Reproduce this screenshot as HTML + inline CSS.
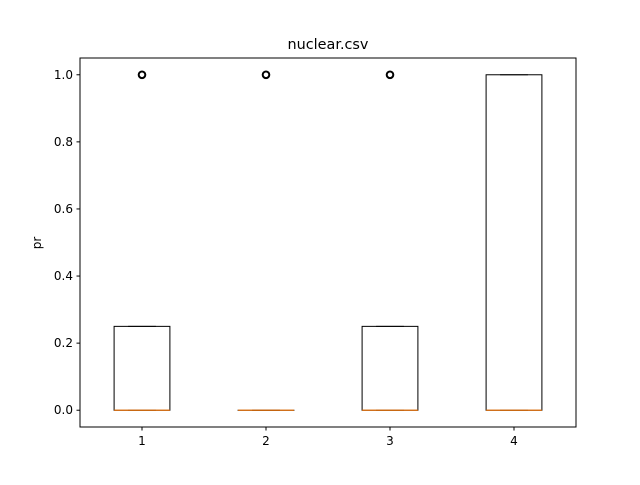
<!DOCTYPE html>
<html><head><meta charset="utf-8"><style>
body{margin:0;background:#fff;font-family:"Liberation Sans","DejaVu Sans",sans-serif;}
svg text{font-family:"DejaVu Sans","Liberation Sans",sans-serif;}
</style></head><body>
<svg id="chart" width="640" height="480" xmlns="http://www.w3.org/2000/svg">
<rect width="640" height="480" fill="#fff"/>
<text x="328" y="49" font-size="14.4" text-anchor="middle">nuclear.csv</text>
<text transform="translate(41,243) rotate(-90)" font-size="12" text-anchor="middle">pr</text>
<g id="marks"></g>
<rect x="80" y="58" width="496" height="369" fill="none" stroke="#000" stroke-width="1"/>
</svg>
<script>
const categories=["1","2","3","4"];
const q1=[0,0,0,0];
const q3=[0.25,0,0.25,1];
const medians=[0,0,0,0];
const whiskLo=[0,0,0,0];
const whiskHi=[0.25,0,0.25,1];
const fliers=[[1],[1],[1],[]];
const yTicks=[0,0.2,0.4,0.6,0.8,1.0];
const yTickLabels=["0.0","0.2","0.4","0.6","0.8","1.0"];

const L=80,R=576,T=58,B=427;
const ymin=-0.05,ymax=1.05;
const y=v=>B-(v-ymin)/(ymax-ymin)*(B-T);
const x=i=>L+(i+1-0.5)/4*(R-L);
const bw=0.45/4*(R-L);
const NS="http://www.w3.org/2000/svg";
const g=document.getElementById('marks');
function mk(tag,attrs,parent){const e=document.createElementNS(NS,tag);for(const k in attrs)e.setAttribute(k,attrs[k]);(parent||g).appendChild(e);return e;}

yTicks.forEach((t,i)=>{
  const yy=y(t);
  const tk=mk('line',{x1:L-3.5,x2:L,y1:yy,y2:yy,stroke:'#000'});
  
  
  const tx=mk('text',{x:L-7,y:yy+4,'font-size':12,'text-anchor':'end'});
  tx.textContent=yTickLabels[i];
  
  
});
categories.forEach((c,i)=>{
  const xx=x(i);
  const tk=mk('line',{x1:xx,x2:xx,y1:B,y2:B+3.5,stroke:'#000'});
  
  
  const tx=mk('text',{x:xx,y:B+18,'font-size':12,'text-anchor':'middle'});
  tx.textContent=c;
  
  
  const grp=mk('g',{});
  
  
  const yb=y(q1[i]),yt=y(q3[i]);
  mk('rect',{x:xx-bw/2,y:yt,width:bw,height:Math.max(yb-yt,0.01),fill:'none',stroke:'#000'},grp);
  mk('line',{x1:xx,x2:xx,y1:yt,y2:y(whiskHi[i]),stroke:'#000'},grp);
  mk('line',{x1:xx,x2:xx,y1:yb,y2:y(whiskLo[i]),stroke:'#000'},grp);
  mk('line',{x1:xx-bw/4,x2:xx+bw/4,y1:y(whiskHi[i]),y2:y(whiskHi[i]),stroke:'#000'},grp);
  mk('line',{x1:xx-bw/4,x2:xx+bw/4,y1:y(whiskLo[i]),y2:y(whiskLo[i]),stroke:'#000'},grp);
  const md=mk('line',{x1:xx-bw/2,x2:xx+bw/2,y1:y(medians[i]),y2:y(medians[i]),stroke:'#ff7f0e','stroke-width':1.5,'stroke-opacity':0.75},grp);
  
  
  fliers[i].forEach(f=>{
    const fc=mk('circle',{cx:xx,cy:y(f),r:3.3,fill:'none',stroke:'#000','stroke-width':2},grp);
    
    
  });
});
</script>
</body></html>
